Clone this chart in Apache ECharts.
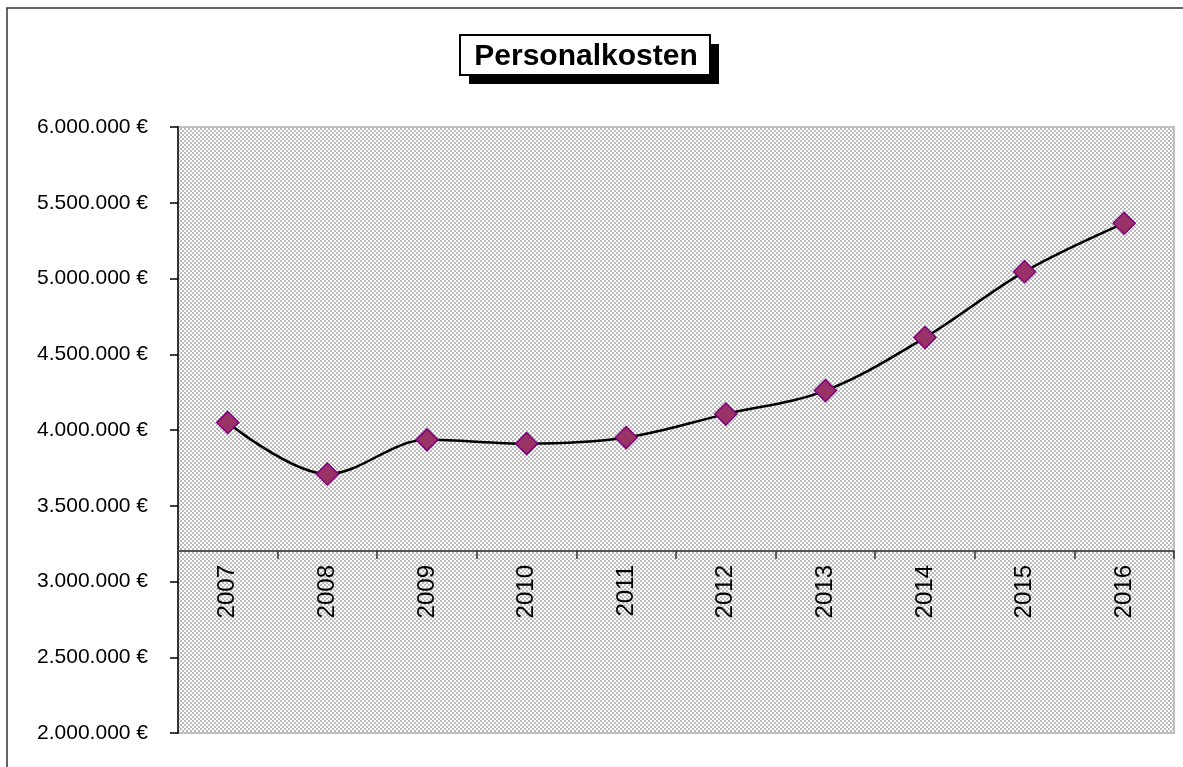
<!DOCTYPE html>
<html>
<head>
<meta charset="utf-8">
<script src="https://cdn.jsdelivr.net/npm/echarts@6/dist/echarts.min.js"></script>
<style>
  html, body { margin: 0; padding: 0; background: #fff; }
  #main { width: 1183px; height: 767px; }
</style>
</head>
<body>
<div id="main"></div>
<script>
// Daten
var jahre = ['2007', '2008', '2009', '2010', '2011', '2012', '2013', '2014', '2015', '2016'];
var kosten = [4050000, 3710000, 3935000, 3910000, 3950000, 4105000, 4260000, 4610000, 5045000, 5365000];
var yMin = 2000000, yMax = 6000000, yStep = 500000;

// Punktraster wie im Excel-Diagramm
var muster = document.createElement('canvas');
muster.width = 4; muster.height = 4;
var c = muster.getContext('2d');
c.fillStyle = '#ffffff'; c.fillRect(0, 0, 4, 4);
c.fillStyle = '#bcbcbc'; c.fillRect(0, 0, 2, 2); c.fillRect(2, 2, 2, 2);

function euro(v) {
    return String(v).replace(/\B(?=(\d{3})+(?!\d))/g, '.') + ' €';
}

var myChart = echarts.init(document.getElementById('main'));

var option = {
    animation: false,
    backgroundColor: '#ffffff',
    grid: {
        left: 178, top: 127, right: 9, bottom: 34,
        show: true,
        backgroundColor: { image: muster, repeat: 'repeat' },
        borderColor: '#c0c0c0',
        borderWidth: 2
    },
    graphic: [
        // Rahmen
        { type: 'rect', shape: { x: 7, y: 8, width: 1200, height: 800 },
          style: { fill: 'none', stroke: '#333', lineWidth: 1.5 }, silent: true },
        // Titel mit Schatten
        { type: 'rect', shape: { x: 469, y: 44, width: 250, height: 40 },
          style: { fill: '#000' }, z: 10 },
        { type: 'rect', shape: { x: 460, y: 35, width: 250, height: 40 },
          style: { fill: '#fff', stroke: '#000', lineWidth: 2 }, z: 11 },
        { type: 'text', x: 586, y: 57, z: 12,
          style: { text: 'Personalkosten', fill: '#000', align: 'center', verticalAlign: 'middle',
                   font: 'bold 30px "Liberation Sans", Arial, sans-serif' } }
    ],
    xAxis: {
        type: 'category',
        data: jahre,
        offset: -182,
        axisLine: { onZero: false, lineStyle: { color: '#555', width: 2 } },
        axisTick: { show: true, length: 8, inside: false, lineStyle: { color: '#333', width: 1.5 } },
        axisLabel: {
            rotate: 90, margin: 14, color: '#000', fontSize: 24,
            fontFamily: '"Liberation Sans Narrow", "Liberation Sans", Arial, sans-serif'
        },
        splitLine: { show: false }
    },
    yAxis: {
        type: 'value',
        min: yMin, max: yMax, interval: yStep,
        axisLine: { show: true, lineStyle: { color: '#333', width: 2 } },
        axisTick: { show: true, length: 8, lineStyle: { color: '#000', width: 1.5 } },
        axisLabel: {
            formatter: euro, margin: 30, color: '#000', fontSize: 21,
            fontFamily: '"Liberation Sans", Arial, sans-serif'
        },
        splitLine: { show: false }
    },
    series: [{
        name: 'Personalkosten',
        type: 'line',
        data: kosten,
        smooth: 0.35,
        symbol: 'diamond',
        symbolSize: 22,
        lineStyle: { color: '#000', width: 2.5 },
        itemStyle: { color: '#993366', borderColor: '#800080', borderWidth: 1.5 },
        z: 5
    }]
};

myChart.setOption(option);
</script>
</body>
</html>
